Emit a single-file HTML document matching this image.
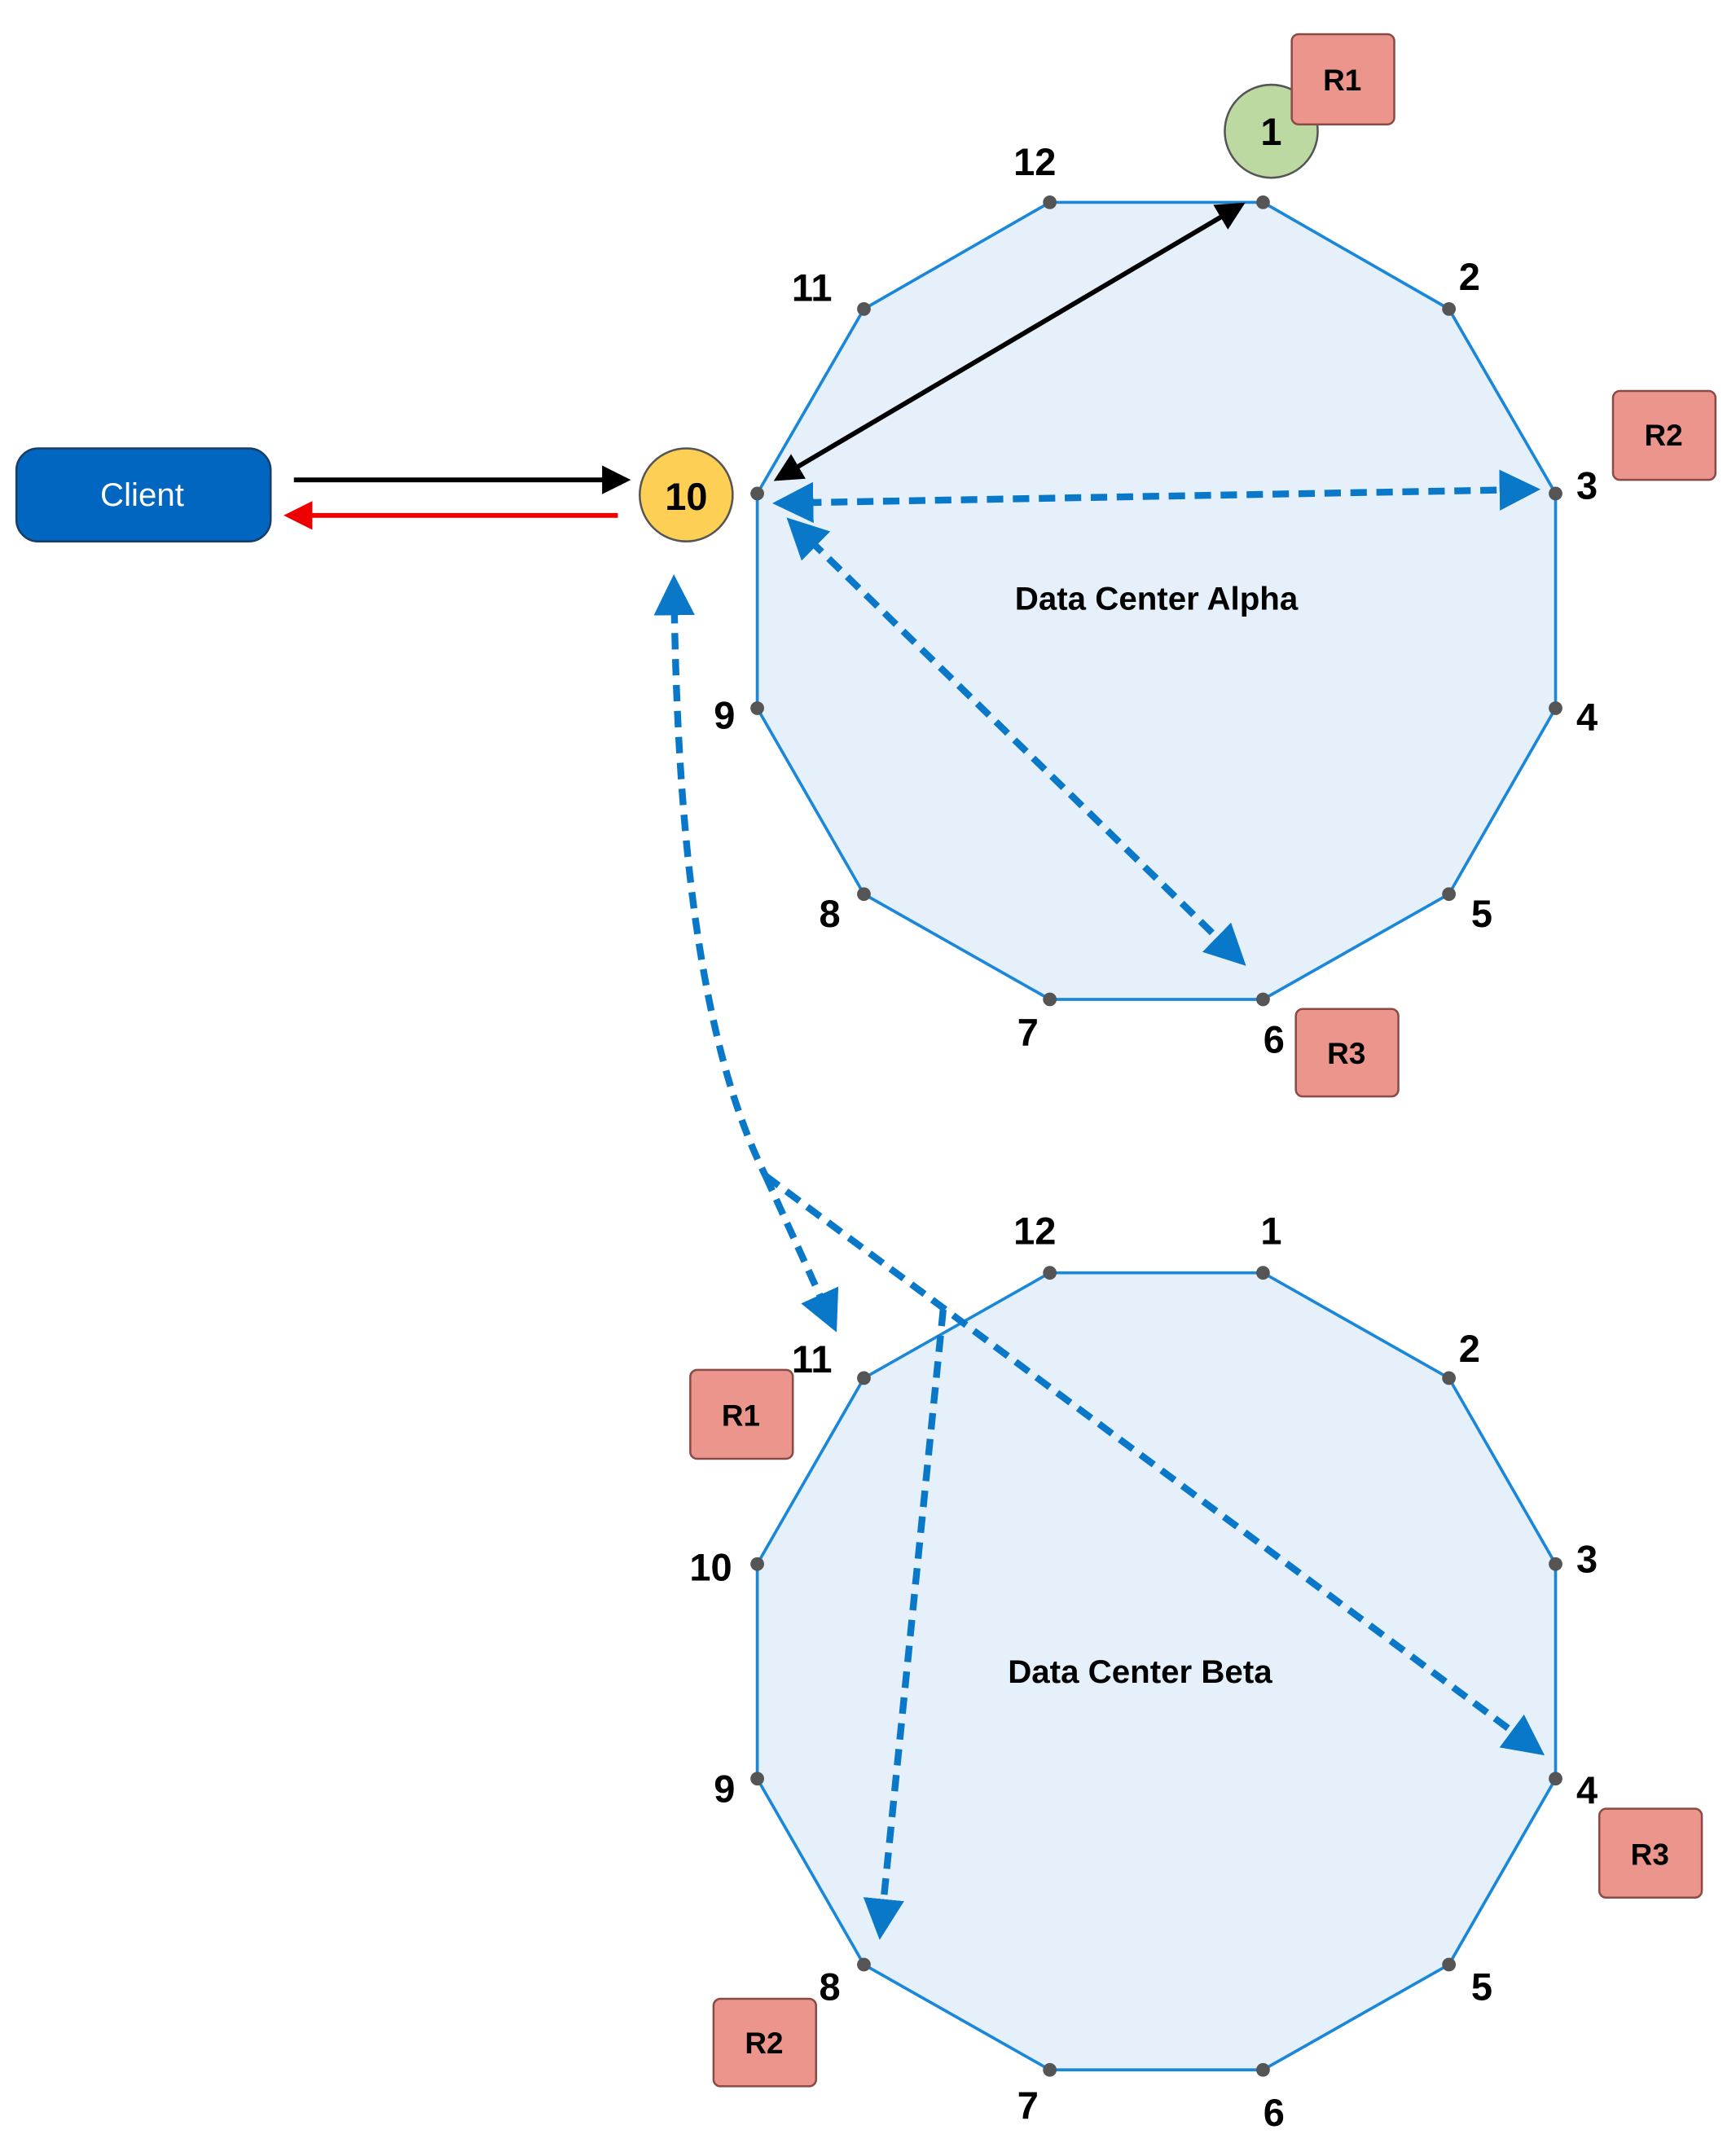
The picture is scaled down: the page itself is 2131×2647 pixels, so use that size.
<!DOCTYPE html>
<html><head><meta charset="utf-8"><style>html,body{margin:0;padding:0;background:#fff}svg{display:block}</style></head>
<body>
<svg width="2131" height="2647" viewBox="0 0 1270 1577" preserveAspectRatio="none" xmlns="http://www.w3.org/2000/svg" font-family="Liberation Sans, sans-serif">
<defs>
<marker id="bk" markerWidth="6" markerHeight="6" refX="5" refY="3" orient="auto-start-reverse" markerUnits="strokeWidth"><path d="M0,0 L6,3 L0,6 z" fill="#000"/></marker>
<marker id="rd" markerWidth="6" markerHeight="6" refX="5" refY="3" orient="auto-start-reverse" markerUnits="strokeWidth"><path d="M0,0 L6,3 L0,6 z" fill="#e00"/></marker>
<marker id="bl" markerWidth="6" markerHeight="6" refX="5" refY="3" orient="auto-start-reverse" markerUnits="strokeWidth"><path d="M0,0 L6,3 L0,6 z" fill="#0a78c8"/></marker>
</defs>
<g fill="#e5f0fb" stroke="#1b87d8" stroke-width="2.2">
<polygon points="768,148 924,148 1060,226 1138,361 1138,518 1060,654 924,731 768,731 632,654 554,518 554,361 632,226"/>
<polygon points="768,931 924,931 1060,1008 1138,1144 1138,1301 1060,1437 924,1514 768,1514 632,1437 554,1301 554,1144 632,1008"/>
</g>
<g fill="#555">
<circle cx="768" cy="148" r="5"/><circle cx="924" cy="148" r="5"/><circle cx="1060" cy="226" r="5"/><circle cx="1138" cy="361" r="5"/><circle cx="1138" cy="518" r="5"/><circle cx="1060" cy="654" r="5"/><circle cx="924" cy="731" r="5"/><circle cx="768" cy="731" r="5"/><circle cx="632" cy="654" r="5"/><circle cx="554" cy="518" r="5"/><circle cx="554" cy="361" r="5"/><circle cx="632" cy="226" r="5"/>
<circle cx="768" cy="931" r="5"/><circle cx="924" cy="931" r="5"/><circle cx="1060" cy="1008" r="5"/><circle cx="1138" cy="1144" r="5"/><circle cx="1138" cy="1301" r="5"/><circle cx="1060" cy="1437" r="5"/><circle cx="924" cy="1514" r="5"/><circle cx="768" cy="1514" r="5"/><circle cx="632" cy="1437" r="5"/><circle cx="554" cy="1301" r="5"/><circle cx="554" cy="1144" r="5"/><circle cx="632" cy="1008" r="5"/>
</g>
<rect x="12" y="328" width="186" height="68" rx="16" fill="#0066c0" stroke="#1a3d66" stroke-width="1.5"/>
<text x="104" y="370" font-size="24" fill="#fff" text-anchor="middle">Client</text>
<circle cx="502" cy="362" r="34" fill="#fdd055" stroke="#555" stroke-width="1.5"/>
<text x="502" y="373" font-size="28" font-weight="bold" text-anchor="middle">10</text>
<circle cx="930" cy="96" r="34" fill="#bcd9a2" stroke="#555" stroke-width="1.5"/>
<text x="930" y="106" font-size="28" font-weight="bold" text-anchor="middle">1</text>
<g fill="#ec958c" stroke="#8a4a45" stroke-width="1.5">
<rect x="945" y="25" width="75" height="66" rx="5"/><rect x="1180" y="286" width="75" height="65" rx="5"/><rect x="948" y="738" width="75" height="64" rx="5"/>
<rect x="505" y="1002" width="75" height="65" rx="5"/><rect x="1170" y="1323" width="75" height="65" rx="5"/><rect x="522" y="1462" width="75" height="64" rx="5"/>
</g>
<g font-size="22" font-weight="bold" text-anchor="middle">
<text x="982" y="66">R1</text><text x="1217" y="326">R2</text><text x="985" y="778">R3</text>
<text x="542" y="1043">R1</text><text x="1207" y="1364">R3</text><text x="559" y="1502">R2</text>
</g>
<g font-size="28" font-weight="bold" text-anchor="middle">
<text x="757" y="128">12</text><text x="1075" y="212">2</text><text x="1161" y="365">3</text><text x="1161" y="534">4</text><text x="1084" y="678">5</text><text x="932" y="770">6</text><text x="752" y="765">7</text><text x="607" y="678">8</text><text x="530" y="533">9</text><text x="594" y="220">11</text>
<text x="757" y="910">12</text><text x="930" y="910">1</text><text x="1075" y="996">2</text><text x="1161" y="1150">3</text><text x="1161" y="1319">4</text><text x="1084" y="1463">5</text><text x="932" y="1555">6</text><text x="752" y="1550">7</text><text x="607" y="1463">8</text><text x="530" y="1318">9</text><text x="520" y="1156">10</text><text x="594" y="1004">11</text>
</g>
<g font-size="24" font-weight="bold" text-anchor="middle">
<text x="846" y="446">Data Center Alpha</text><text x="834" y="1231">Data Center Beta</text>
</g>
<line x1="215" y1="351" x2="458" y2="351" stroke="#000" stroke-width="3.5" marker-end="url(#bk)"/>
<line x1="452" y1="377" x2="211" y2="377" stroke="#e00" stroke-width="3.5" marker-end="url(#rd)"/>
<line x1="908" y1="150" x2="569" y2="350" stroke="#000" stroke-width="3.5" marker-start="url(#bk)" marker-end="url(#bk)"/>
<g stroke="#0a78c8" stroke-width="5" stroke-dasharray="12,7" fill="none">
<line x1="570" y1="368" x2="1122" y2="358" marker-start="url(#bl)" marker-end="url(#bl)"/>
<line x1="579" y1="382" x2="908" y2="703" marker-start="url(#bl)" marker-end="url(#bl)"/>
<path d="M493,425 C495,600 510,760 560,860" marker-start="url(#bl)"/>
<line x1="560" y1="860" x2="610" y2="970" marker-end="url(#bl)"/>
<line x1="560" y1="860" x2="1126" y2="1281" marker-end="url(#bl)"/>
<line x1="690" y1="958" x2="644" y2="1414" marker-end="url(#bl)"/>
</g>
</svg>
</body></html>
